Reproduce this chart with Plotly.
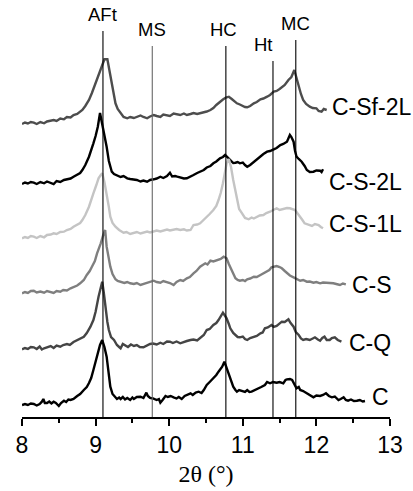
import plotly.graph_objects as go

# ---------------- data ----------------
names = ["C-Sf-2L", "C-S-2L", "C-S-1L", "C-S", "C-Q", "C"]

x_csf2l = [8.00, 8.04, 8.08, 8.12, 8.16, 8.20, 8.25, 8.30, 8.34, 8.39, 8.43, 8.47, 8.52, 8.57, 8.61, 8.66,
           8.70, 8.75, 8.79, 8.82, 8.86, 8.91, 8.95, 9.00, 9.04, 9.07, 9.10, 9.12, 9.16, 9.18, 9.20, 9.23,
           9.27, 9.30, 9.34, 9.38, 9.43, 9.47, 9.52, 9.56, 9.61, 9.65, 9.70, 9.74, 9.79, 9.83, 9.88, 9.92,
           9.97, 10.01, 10.06, 10.11, 10.15, 10.20, 10.24, 10.29, 10.33, 10.38, 10.42, 10.47, 10.51, 10.56,
           10.60, 10.64, 10.69, 10.73, 10.77, 10.81, 10.85, 10.88, 10.92, 10.96, 11.00, 11.03, 11.06, 11.10,
           11.15, 11.19, 11.24, 11.28, 11.33, 11.37, 11.42, 11.46, 11.50, 11.53, 11.57, 11.62, 11.66, 11.70,
           11.73, 11.76, 11.79, 11.82, 11.86, 11.91, 11.95, 12.00, 12.03, 12.07, 12.10, 12.14]
y_csf2l = [293, 294.5, 293.5, 295, 294.3, 293, 295, 293.7, 295.5, 296, 297, 296, 298.5, 297.7, 300, 299.5,
           302, 303, 305, 307, 311, 317, 324, 333.7, 342, 348.7, 354, 357.7, 357.7, 350, 340.3, 327,
           313.7, 308, 303.7, 300, 298.7, 300, 299, 300.3, 301.5, 300, 298.7, 300.5, 302, 301, 300, 302.5,
           302, 301, 303.5, 303, 302, 303.5, 302, 303, 304, 303, 303.7, 305, 305.5, 307,
           309, 312, 315.3, 317.5, 319.5, 320.3, 318, 316, 313.7, 312.5, 311, 310, 309.7, 311,
           313.7, 315, 317.7, 318.5, 320.3, 322, 325.3, 326, 328, 329.7, 332, 337, 340, 347,
           338, 330.3, 323, 317, 313, 310.3, 309, 308.7, 306, 305.3, 308, 307]

x_cs2l = [8.00, 8.04, 8.08, 8.12, 8.16, 8.20, 8.25, 8.30, 8.34, 8.39, 8.43, 8.47, 8.52, 8.57, 8.61, 8.66,
          8.70, 8.75, 8.79, 8.82, 8.86, 8.91, 8.94, 8.97, 9.00, 9.03, 9.06, 9.09, 9.12, 9.15, 9.18, 9.22,
          9.25, 9.29, 9.34, 9.38, 9.43, 9.47, 9.52, 9.56, 9.61, 9.65, 9.70, 9.74, 9.79, 9.83, 9.88, 9.92,
          9.97, 10.01, 10.04, 10.08, 10.11, 10.15, 10.20, 10.24, 10.29, 10.33, 10.38, 10.42, 10.47, 10.51,
          10.56, 10.60, 10.64, 10.69, 10.73, 10.76, 10.80, 10.83, 10.87, 10.90, 10.93, 10.96, 11.00, 11.03,
          11.06, 11.10, 11.15, 11.19, 11.24, 11.28, 11.33, 11.37, 11.42, 11.46, 11.51, 11.55, 11.60, 11.62,
          11.64, 11.66, 11.69, 11.71, 11.73, 11.76, 11.80, 11.84, 11.87, 11.91, 11.96, 12.00, 12.05, 12.07,
          12.09]
y_cs2l = [233, 234.5, 233.5, 235, 234.3, 233, 235, 233.7, 235.5, 234, 233, 236, 235, 237, 238, 238.5,
          240.3, 242, 244, 247, 252, 260.3, 266, 273.7, 281, 290.3, 304, 293.7, 282, 270.3, 256, 245.3,
          243, 242, 240, 241, 238.7, 238, 237.5, 237, 235.5, 236.5, 235.3, 237, 237.7, 238.5, 240.3, 239,
          241, 244.3, 240.5, 241, 240.3, 239.5, 238.5, 238.7, 241, 242, 244, 245, 247, 249.5,
          251, 253.7, 255.5, 258.7, 260, 262, 259, 257, 254, 254.3, 255, 253.7, 254.5, 252,
          250.3, 252, 255.3, 258, 260.3, 263, 265.3, 266, 267.7, 269, 272, 273, 275.3, 278,
          282, 280, 275.3, 266, 260.3, 258, 255.3, 251, 247, 245, 245.3, 246.5, 246.3, 245,
          247.7]

x_cs1l = [8.00, 8.04, 8.08, 8.12, 8.16, 8.20, 8.25, 8.30, 8.34, 8.39, 8.43, 8.47, 8.52, 8.57, 8.61, 8.66,
          8.70, 8.75, 8.79, 8.82, 8.86, 8.91, 8.94, 8.97, 9.01, 9.04, 9.07, 9.09, 9.12, 9.15, 9.18, 9.20,
          9.23, 9.27, 9.32, 9.38, 9.42, 9.47, 9.52, 9.56, 9.61, 9.65, 9.70, 9.74, 9.79, 9.83, 9.88, 9.92,
          9.97, 10.01, 10.06, 10.10, 10.15, 10.20, 10.24, 10.29, 10.33, 10.38, 10.42, 10.47, 10.51, 10.55,
          10.60, 10.64, 10.67, 10.70, 10.73, 10.76, 10.78, 10.81, 10.84, 10.87, 10.90, 10.92, 10.95, 10.99,
          11.03, 11.08, 11.12, 11.15, 11.19, 11.23, 11.28, 11.32, 11.37, 11.41, 11.46, 11.50, 11.55, 11.60,
          11.64, 11.68, 11.71, 11.75, 11.78, 11.81, 11.84, 11.89, 11.94, 11.98, 12.03, 12.06, 12.09]
y_cs1l = [178.7, 180, 179, 181, 180.3, 179, 181, 179.7, 182, 182.5, 183.7, 183, 185, 185.3, 187, 188,
          190.3, 192, 194, 197, 202, 210.3, 216, 223.7, 232, 238.7, 242, 243.7, 235, 223.7, 210, 200.3,
          194, 190.3, 187, 184.3, 185, 183, 183.7, 185, 183.5, 184.3, 185.5, 184.5, 185.3, 186.5, 185.5, 186.3,
          187.5, 186.5, 187, 188, 187, 187.7, 186.5, 187, 192, 192.5, 193.7, 197, 200.3, 203,
          207, 211, 217, 224, 233.7, 245, 253.7, 258, 250, 237, 225, 217, 208, 203.7,
          199, 197.7, 199.5, 198.5, 200.3, 201.5, 202, 204, 205.3, 207, 208.7, 207, 207.7, 209,
          208.7, 208, 207, 203, 200.3, 197, 193.7, 192.5, 191, 193, 192, 190, 188.7]

x_cs = [8.00, 8.04, 8.08, 8.12, 8.16, 8.20, 8.25, 8.30, 8.34, 8.39, 8.43, 8.47, 8.52, 8.56, 8.61, 8.66,
        8.70, 8.75, 8.79, 8.84, 8.88, 8.92, 8.95, 8.99, 9.02, 9.05, 9.07, 9.10, 9.13, 9.15, 9.18, 9.20,
        9.23, 9.27, 9.30, 9.34, 9.39, 9.43, 9.47, 9.52, 9.56, 9.61, 9.65, 9.70, 9.74, 9.79, 9.83, 9.88,
        9.92, 9.97, 10.01, 10.06, 10.10, 10.15, 10.19, 10.24, 10.28, 10.33, 10.37, 10.42, 10.45, 10.49,
        10.52, 10.56, 10.60, 10.65, 10.70, 10.74, 10.78, 10.81, 10.85, 10.88, 10.90, 10.93, 10.96, 11.00,
        11.03, 11.06, 11.10, 11.15, 11.19, 11.24, 11.28, 11.33, 11.36, 11.39, 11.43, 11.46, 11.50, 11.53,
        11.57, 11.60, 11.64, 11.69, 11.73, 11.78, 11.82, 11.87, 11.91, 11.96, 12.00, 12.05, 12.09, 12.14,
        12.18, 12.23, 12.27, 12.32, 12.36, 12.40]
y_cs = [123.7, 125, 124, 126, 126.3, 124.5, 125.5, 124.3, 126, 125.3, 124, 126, 125.3, 127, 126.5, 128.7,
        130, 131.5, 133.7, 137, 142, 146, 150.3, 156, 163.7, 169, 173.7, 181, 187, 170.3, 158, 150.3,
        143, 137.7, 136, 135.3, 134, 135, 133.7, 133, 134, 132, 133, 134.3, 135, 136.3, 135, 134.3,
        136, 135.3, 134, 132, 135, 137, 136, 138.7, 140, 143.7, 146, 150.3, 152, 153.7,
        152.5, 156.3, 155.5, 157, 158, 160.3, 158.7, 153, 147, 142, 138.7, 137, 136.3, 137,
        136, 137.7, 138.5, 140.3, 140, 142, 143.5, 145.3, 147, 149.7, 150.5, 151, 150, 148.7,
        146, 143.7, 141.5, 139.7, 138, 136.3, 137, 135.3, 135.5, 134.3, 135, 133.7, 134.5, 134.3,
        133.5, 133.7, 133, 132, 133.5, 132.7]

x_cq = [8.00, 8.04, 8.08, 8.12, 8.16, 8.20, 8.24, 8.27, 8.30, 8.34, 8.39, 8.43, 8.47, 8.52, 8.56, 8.61,
        8.65, 8.70, 8.75, 8.79, 8.84, 8.88, 8.93, 8.97, 9.00, 9.04, 9.07, 9.09, 9.11, 9.13, 9.16, 9.18,
        9.21, 9.25, 9.29, 9.32, 9.34, 9.37, 9.40, 9.44, 9.48, 9.52, 9.56, 9.60, 9.65, 9.70, 9.74, 9.78,
        9.83, 9.88, 9.92, 9.97, 10.01, 10.05, 10.10, 10.15, 10.19, 10.24, 10.29, 10.33, 10.38, 10.42,
        10.47, 10.51, 10.55, 10.60, 10.64, 10.67, 10.70, 10.73, 10.76, 10.78, 10.81, 10.83, 10.87, 10.90,
        10.93, 10.96, 11.00, 11.03, 11.06, 11.10, 11.15, 11.19, 11.24, 11.27, 11.30, 11.34, 11.39, 11.42,
        11.46, 11.50, 11.53, 11.57, 11.62, 11.65, 11.69, 11.72, 11.76, 11.79, 11.82, 11.86, 11.91, 11.95,
        11.98, 12.02, 12.05, 12.08, 12.11, 12.14, 12.18, 12.21, 12.25, 12.29, 12.34]
y_cq = [67.7, 69, 68, 70, 69.7, 68, 70.5, 67.5, 68.7, 70, 71, 69, 71.5, 70.3, 72, 73,
        72, 75, 77, 78, 80.3, 84, 90.3, 97, 105.3, 120.3, 130, 135.3, 125, 110.3, 95, 87,
        80, 77, 72, 70, 68.7, 73, 72, 70, 72.5, 71, 72, 70, 69.7, 72, 73, 73.5,
        72.5, 74.3, 73, 75.5, 75.3, 74, 75.5, 73.7, 75, 76, 77, 77.5, 76.5, 78.7,
        82, 87, 88, 92, 94, 97, 101, 104.3, 101, 98.7, 93, 88.7, 84, 82,
        80, 79.7, 80.5, 78, 77, 79, 80.3, 81, 83.7, 84.5, 88.7, 89.5, 92, 90,
        91, 93, 95.3, 95, 97.7, 94, 90.3, 85, 82, 78.5, 77, 78, 77, 78.5,
        79.7, 77.5, 76.3, 79, 80.3, 77, 77, 79, 79.7, 77, 75.3]

x_c = [8.00, 8.04, 8.08, 8.12, 8.16, 8.20, 8.24, 8.27, 8.29, 8.31, 8.34, 8.37, 8.40, 8.43, 8.46, 8.50,
       8.53, 8.57, 8.60, 8.63, 8.66, 8.70, 8.75, 8.79, 8.84, 8.88, 8.91, 8.94, 8.97, 9.00, 9.03, 9.06,
       9.09, 9.12, 9.15, 9.18, 9.20, 9.23, 9.25, 9.29, 9.32, 9.34, 9.37, 9.40, 9.43, 9.47, 9.50, 9.52,
       9.56, 9.61, 9.65, 9.69, 9.71, 9.74, 9.78, 9.83, 9.86, 9.88, 9.91, 9.95, 9.98, 10.02, 10.06, 10.10,
       10.13, 10.17, 10.21, 10.25, 10.29, 10.32, 10.36, 10.40, 10.44, 10.47, 10.51, 10.55, 10.60, 10.64,
       10.67, 10.70, 10.72, 10.75, 10.78, 10.80, 10.83, 10.85, 10.87, 10.90, 10.92, 10.95, 10.99, 11.03,
       11.06, 11.09, 11.12, 11.16, 11.21, 11.25, 11.30, 11.33, 11.37, 11.41, 11.46, 11.50, 11.55, 11.58,
       11.60, 11.64, 11.67, 11.70, 11.73, 11.76, 11.78, 11.82, 11.87, 11.91, 11.96, 12.00, 12.05, 12.09,
       12.13, 12.17, 12.21, 12.25, 12.30, 12.33, 12.37, 12.40, 12.43, 12.47, 12.51, 12.55, 12.59, 12.63,
       12.66]
y_c = [12, 13, 12, 13.5, 13, 11.5, 13, 15.3, 18, 14, 14, 15.5, 13.5, 15.3, 14, 11,
       14, 16.3, 15, 17.5, 17, 18, 21, 23, 27, 30, 34, 39, 47, 55, 64, 72,
       77, 70, 60.3, 42, 30.3, 23, 21, 18, 19.5, 18, 20, 17.5, 19, 17, 19.5, 18,
       20, 20.3, 19, 24.3, 21, 19, 18.5, 17, 18, 14.3, 17, 21, 20, 21, 19.7, 18.5,
       20, 18, 21, 22, 23.7, 22, 24.5, 25.3, 24, 27, 32, 35, 38.7, 42,
       45.3, 48, 50.3, 55.3, 48.7, 44, 38.7, 35, 30.3, 27, 25.3, 27, 26.3, 25,
       27, 25, 25.3, 27, 28.7, 30, 32, 35, 33.7, 35, 34.3, 35, 33.7, 37,
       37.7, 38, 37, 32, 28.7, 30, 27, 26, 23.7, 22, 19.7, 21.5, 21, 22,
       23.7, 21, 19.7, 20.5, 17, 18, 19.7, 17, 16.3, 17.5, 16, 16.3, 17, 15.5,
       16]

phase_names = ["AFt", "MS", "HC", "Ht", "MC"]
phase_pos = [9.10, 9.77, 10.77, 11.41, 11.72]
phase_top = [386, 371, 371, 356, 377]

x_ticks = [8, 9, 10, 11, 12, 13]
x_title = "2θ (°)"

# ---------------- styles / layout ----------------
series_x = [x_csf2l, x_cs2l, x_cs1l, x_cs, x_cq, x_c]
series_y = [y_csf2l, y_cs2l, y_cs1l, y_cs, y_cq, y_c]
colors = ["#4d4d4d", "#000000", "#c4c4c4", "#7f7f7f", "#454545", "#000000"]
label_x = [12.19, 12.14, 12.14, 12.46, 12.41, 12.73]
label_y = [310, 235.3, 193, 132, 73.7, 20.3]
phase_colors = ["#000000", "#666666", "#000000", "#000000", "#000000"]
phase_xshift = [0, 0, -2, -9, 0]

fig = go.Figure()
for xs, ys, c, n in zip(series_x, series_y, colors, names):
    fig.add_trace(go.Scatter(x=xs, y=ys, mode="lines", name=n,
                             line=dict(color=c, width=2.4), showlegend=False))

for p, t, c in zip(phase_pos, phase_top, phase_colors):
    fig.add_trace(go.Scatter(x=[p, p], y=[0, t], mode="lines",
                             line=dict(color=c, width=1.1), showlegend=False))

annotations = []
for n, p, t, xs in zip(phase_names, phase_pos, phase_top, phase_xshift):
    annotations.append(dict(x=p, y=t, xref="x", yref="y", text=n, showarrow=False,
                            xanchor="center", yanchor="bottom", yshift=4, xshift=xs,
                            font=dict(family="Liberation Sans, Arial", size=18.5, color="#000")))
for n, lx, ly in zip(names, label_x, label_y):
    annotations.append(dict(x=lx, y=ly, xref="x", yref="y", text=n, showarrow=False,
                            xanchor="left", yanchor="middle",
                            font=dict(family="Liberation Sans, Arial", size=23, color="#000")))

fig.update_layout(
    width=413, height=491,
    margin=dict(l=21.5, r=23, t=0, b=74),
    plot_bgcolor="white", paper_bgcolor="white",
    annotations=annotations,
    xaxis=dict(range=[8, 13], tickvals=x_ticks, ticks="outside", ticklen=7, tickwidth=1.5,
               tickcolor="black", showline=True, linecolor="black", linewidth=1.5,
               showgrid=False, zeroline=False,
               minor=dict(dtick=0.5, ticks="outside", ticklen=4, tickwidth=1.5, tickcolor="black", showgrid=False),
               tickfont=dict(family="Liberation Sans, Arial", size=23, color="black"),
               title=dict(text=x_title, standoff=8,
                          font=dict(family="Liberation Serif, Times New Roman", size=24, color="black"))),
    yaxis=dict(range=[0, 417], visible=False, showgrid=False, zeroline=False),
)

fig.write_html("out.html", config={"displayModeBar": False},
               post_script="document.body.style.margin='0';document.body.style.overflow='hidden';")
